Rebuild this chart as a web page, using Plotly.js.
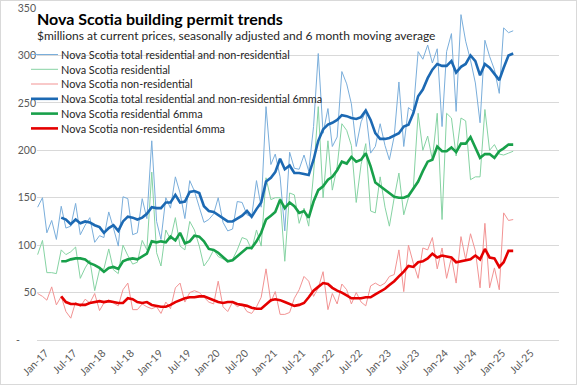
<!DOCTYPE html>
<html><head><meta charset="utf-8">
<script src="https://cdn.plot.ly/plotly-3.0.1.min.js"></script>
<style>
html,body{margin:0;padding:0;background:#fff}
#wrap{width:577px;height:385px;box-sizing:border-box;border:1px solid #d9d9d9;}
#chart{width:575px;height:383px;}
</style></head>
<body><div id="wrap"><div id="chart"></div></div>
<script>
// ---- data (monthly, Jan-2017 .. May-2025) ----
const startYear = 2017;
const seriesNames = [
  "Nova Scotia total residential and non-residential",
  "Nova Scotia residential",
  "Nova Scotia non-residential",
  "Nova Scotia total residential and non-residential 6mma",
  "Nova Scotia residential 6mma",
  "Nova Scotia non-residential 6mma"
];
const total = [140,150,113,126,106,141,118,120,144,111,121,129,103,110,108,135,118,99,151,149,111,113,149,128,210,
  125,106,150,139,172,155,128,168,157,140,124,127,133,150,124,115,117,146,145,132,130,168,140,246,
  185,196,172,115,198,181,180,195,178,225,302,218,244,204,214,283,270,249,204,230,241,197,204,228,205,190,215,
  272,204,245,241,304,296,311,292,307,225,304,323,241,343,315,295,271,229,316,299,285,260,329,324,326];
const residential = [90,105,71,71,70,95,90,93,98,65,76,84,52,74,75,96,74,70,100,89,80,82,105,95,177,
  92,78,116,106,129,99,95,125,116,99,78,85,95,88,85,83,85,95,108,106,95,116,99,171,148,
  150,150,83,155,153,123,139,120,175,246,150,210,158,183,228,221,205,145,185,207,136,134,172,140,
  120,150,176,132,150,160,239,200,215,190,239,127,239,234,194,234,231,169,172,172,243,200,206,196,195,197,199];
const nonResidential = [49,46,42,56,37,46,30,23,40,35,43,39,49,31,39,42,39,36,53,60,32,32,38,35,33,
  35,28,40,33,55,60,40,50,52,50,45,40,38,62,35,30,40,35,38,30,28,35,45,75,40,
  51,27,27,29,44,53,67,62,46,55,72,32,49,38,59,53,38,50,40,36,57,60,57,60,67,69,
  95,51,100,81,65,97,95,108,75,97,65,87,60,109,85,112,94,55,123,55,76,53,134,126,127];
// 6-month moving averages, Jun-2017 .. May-2025
const total6mma = [129,127,122,127,123,125,124,121,119,113,118,121,115,125,130,129,127,129,133,
  140,139,139,145,145,153,145,146,156,157,155,141,136,135,132,129,125,125,128,131,136,130,138,145,167,171,
  177,191,180,184,176,176,175,174,190,210,222,227,229,232,237,236,234,233,235,242,232,218,212,212,213,
  216,218,225,227,239,257,264,276,285,291,289,289,294,282,288,291,300,294,279,291,287,280,274,287,300,302];
const residential6mma = [83,83,85,86,86,85,81,79,76,72,76,77,75,83,85,86,85,88,91,
  104,103,104,103,109,105,113,102,104,110,109,104,96,95,92,87,83,84,88,93,97,97,104,113,127,131,
  135,148,139,145,141,134,136,129,146,158,162,169,172,179,188,186,193,188,190,197,183,166,162,158,
  155,151,150,150,152,160,167,178,188,190,204,199,199,203,198,207,207,214,203,192,196,196,192,199,202,206,206];
const nonResidential6mma = [46,40,38,38,37,37,39,40,41,40,41,40,39,39,44,43,40,39,40,
  37,36,35,35,37,40,42,44,45,45,46,46,44,42,40,39,40,40,38,37,36,34,33,33,38,42,
  43,42,40,38,36,37,39,45,52,56,60,59,55,52,50,47,44,44,44,45,45,48,51,54,58,62,
  67,72,78,77,82,83,86,91,87,89,88,87,82,83,84,85,89,85,96,87,86,77,82,94,94];
const yTickVals = [0,50,100,150,200,250,300,350];
const yTickText = ["-\u00a0\u00a0\u00a0\u00a0\u00a0\u00a0","50","100","150","200","250","300","350"];
const xTickCount = 18; // Jan-17 .. Jul-25, every 6 months

// ---- helpers ----
function monthDate(i){const y=startYear+Math.floor(i/12),m=i%12+1;return y+'-'+(m<10?'0':'')+m+'-01';}
const months = total.map((_,i)=>monthDate(i));
const maMonths = months.slice(months.length-total6mma.length);
const xTickVals = Array.from({length:xTickCount},(_,k)=>monthDate(k*6));

const FONT = 'Lato, "Noto Sans", sans-serif';
const W=575,H=383,L=36,R=17,T=7,B=44;
const PW=W-L-R, PH=H-T-B;
const px=x=>(x-1-L)/PW;           // page px -> paper x
const py=y=>1-(y-1-T)/PH;         // page px -> paper y

const colors = ['#7aaedb','#86d3a3','#f29393','#1c69b3','#18a04a','#e50000'];
const widths = [1,1,1,2.6,2.6,2.6];
const ys = [total,residential,nonResidential,total6mma,residential6mma,nonResidential6mma];
const xs = [months,months,months,maMonths,maMonths,maMonths];

const traces = ys.map((y,i)=>({type:'scatter',mode:'lines',x:xs[i],y:y,name:seriesNames[i],
  line:{color:colors[i],width:widths[i]},hoverinfo:'skip',showlegend:false}));

// manual legend
const legendRows=[54.5,69.3,84,98.8,113.6,128.4];
const shapes=[], annotations=[];
legendRows.forEach((ry,i)=>{
  shapes.push({type:'line',xref:'paper',yref:'paper',x0:px(31),x1:px(58),y0:py(ry),y1:py(ry),
    line:{color:colors[i],width:widths[i]}});
  annotations.push({xref:'paper',yref:'paper',x:px(59),y:py(ry),xanchor:'left',yanchor:'middle',
    text:seriesNames[i],showarrow:false,font:{family:FONT,size:10.9,color:'#262626'}});
});
annotations.push({xref:'paper',yref:'paper',x:px(35),y:py(19),xanchor:'left',yanchor:'middle',
  text:'<b>Nova Scotia building permit trends</b>',showarrow:false,font:{family:FONT,size:16,color:'#000'}});
annotations.push({xref:'paper',yref:'paper',x:px(35),y:py(35.5),xanchor:'left',yanchor:'middle',
  text:'$millions at current prices, seasonally adjusted and 6 month moving average',showarrow:false,
  font:{family:FONT,size:12,color:'#262626'}});

const layout={
  width:W,height:H,margin:{l:L,r:R,t:T,b:B,pad:0},
  paper_bgcolor:'#fff',plot_bgcolor:'#fff',showlegend:false,
  font:{family:FONT,color:'#595959'},
  xaxis:{type:'date',range:['2016-12-28','2026-02-18'],tickvals:xTickVals,tickformat:'%b-%y',
    tickangle:-45,ticklabelshift:8,ticklabelstandoff:2,tickfont:{family:FONT,size:10.5,color:'#595959'},
    showgrid:false,zeroline:false,showline:true,linecolor:'#d9d9d9',linewidth:1,ticks:'',fixedrange:true},
  yaxis:{range:[0,350],tickvals:yTickVals,ticktext:yTickText,tickfont:{family:FONT,size:10.5,color:'#595959'},
    gridcolor:'#d9d9d9',gridwidth:1,zeroline:false,showline:false,ticks:'',fixedrange:true},
  shapes:shapes,annotations:annotations
};
Plotly.newPlot('chart',traces,layout,{displayModeBar:false,staticPlot:true});
</script></body></html>
